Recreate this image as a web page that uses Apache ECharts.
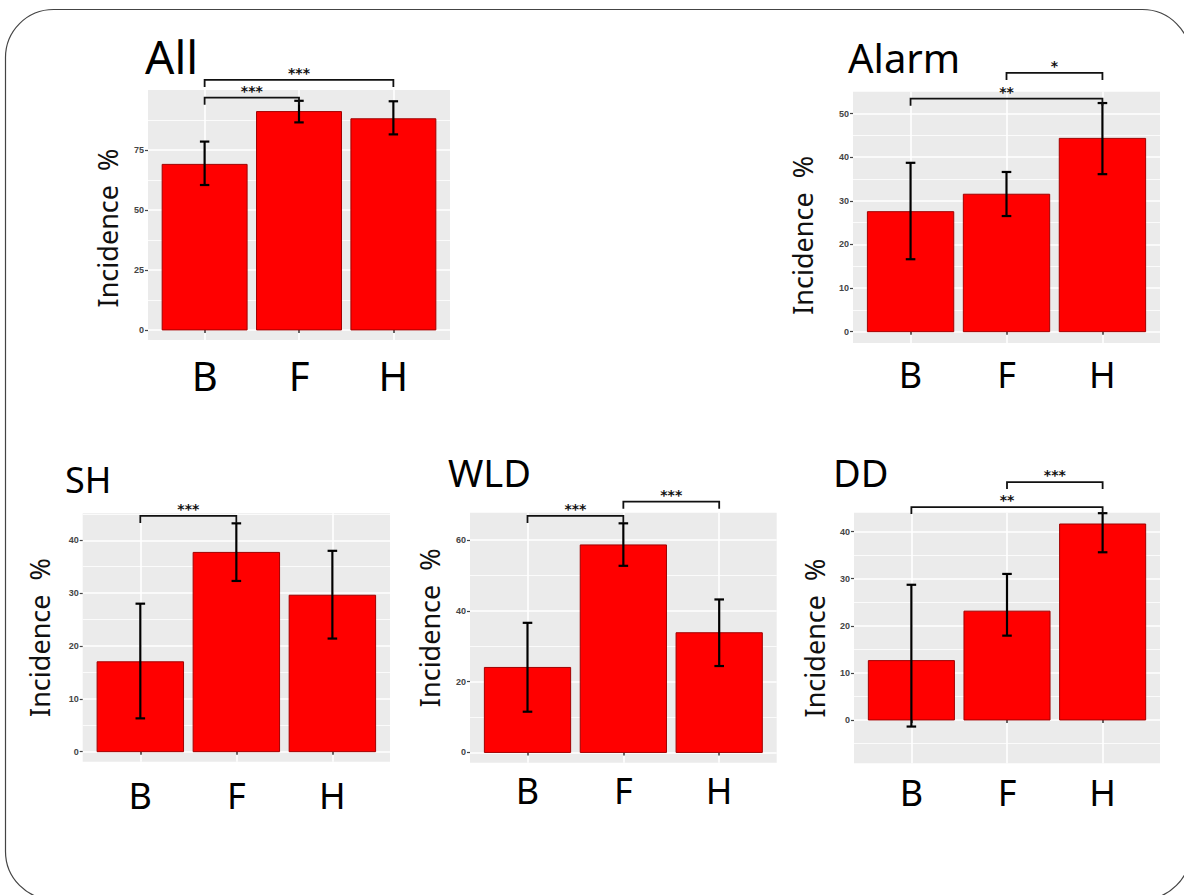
<!DOCTYPE html>
<html><head><meta charset="utf-8">
<script src="https://cdn.jsdelivr.net/npm/echarts@6/dist/echarts.min.js"></script>
<style>html,body{margin:0;padding:0;background:#fff}#c{width:1184px;height:895px}</style>
</head><body><div id="c"></div>
<script>
// ---------- data ----------
const categories = ['B', 'F', 'H'];
const panelTitles = ['All', 'Alarm', 'SH', 'WLD', 'DD'];
const yAxisTitle = 'Incidence \u00a0%';

const allValues = [69.0, 91.0, 88.0];
const allLower  = [60.4, 86.5, 81.5];
const allUpper  = [78.5, 95.5, 95.3];

const alarmValues = [27.5, 31.5, 44.3];
const alarmLower  = [16.6, 26.5, 36.1];
const alarmUpper  = [38.7, 36.6, 52.4];

const shValues = [17.0, 37.7, 29.6];
const shLower  = [6.3, 32.3, 21.4];
const shUpper  = [28.0, 43.2, 38.0];

const wldValues = [24.0, 58.6, 33.8];
const wldLower  = [11.5, 52.7, 24.4];
const wldUpper  = [36.6, 64.7, 43.2];

const ddValues = [12.6, 23.1, 41.6];
const ddLower  = [-1.4, 17.9, 35.6];
const ddUpper  = [28.7, 31.0, 43.9];

// tick labels (major) and minor grid lines
const allTicks   = [0, 25, 50, 75];
const alarmTicks = [0, 10, 20, 30, 40, 50];
const shTicks    = [0, 10, 20, 30, 40];
const wldTicks   = [0, 20, 40, 60];
const ddTicks    = [0, 10, 20, 30, 40];

const allMinor   = [12.5, 37.5, 62.5, 87.5];
const alarmMinor = [5, 15, 25, 35, 45];
const shMinor    = [5, 15, 25, 35, 45];
const wldMinor   = [10, 30, 50];
const ddMinor    = [-5, 5, 15, 25, 35];

// significance brackets: [from, to, height (data units), label]
const allBrackets   = [['B', 'F', 96.8, '***'], ['B', 'H', 104.2, '***']];
const alarmBrackets = [['F', 'H', 59.3, '*'], ['B', 'H', 53.4, '**']];
const shBrackets    = [['B', 'F', 44.6, '***']];
const wldBrackets   = [['B', 'F', 66.8, '***'], ['F', 'H', 70.8, '***']];
const ddBrackets    = [['F', 'H', 50.5, '***'], ['B', 'H', 45.2, '**']];

// ---------- layout / style ----------
const panels = [
  {values: allValues, lower: allLower, upper: allUpper, ticks: allTicks, minor: allMinor, brackets: allBrackets,
   left: 148, top: 90, width: 302, height: 250, yMin: -4.2, yMax: 100,
   tLeft: 145, tTop: 33, tSize: 46, nameGap: 27, namePad: [0, 26, 0, 0], xFont: 40, xMargin: 15},
  {values: alarmValues, lower: alarmLower, upper: alarmUpper, ticks: alarmTicks, minor: alarmMinor, brackets: alarmBrackets,
   left: 853, top: 91.7, width: 307, height: 251.3, yMin: -2.6, yMax: 55,
   tLeft: 848, tTop: 37, tSize: 40, nameGap: 37, namePad: [0, 36, 0, 0], xFont: 36, xMargin: 13},
  {values: shValues, lower: shLower, upper: shUpper, ticks: shTicks, minor: shMinor, brackets: shBrackets,
   left: 82.7, top: 513.3, width: 307.3, height: 248.4, yMin: -1.9, yMax: 45.1,
   tLeft: 65, tTop: 461, tSize: 36, nameGap: 30, namePad: [0, 0, 0, 0], xFont: 36, xMargin: 16},
  {values: wldValues, lower: wldLower, upper: wldUpper, ticks: wldTicks, minor: wldMinor, brackets: wldBrackets,
   left: 470, top: 512.7, width: 306.7, height: 250, yMin: -2.9, yMax: 67.7,
   tLeft: 448, tTop: 453, tSize: 38, nameGap: 27, namePad: [0, 0, 0, 20], xFont: 36, xMargin: 10},
  {values: ddValues, lower: ddLower, upper: ddUpper, ticks: ddTicks, minor: ddMinor, brackets: ddBrackets,
   left: 854, top: 512.7, width: 306, height: 250.6, yMin: -9.2, yMax: 44,
   tLeft: 833, tTop: 453, tSize: 38, nameGap: 26, namePad: [0, 0, 0, 0], xFont: 36, xMargin: 11}
];

const FONT = '"Noto Sans", "DejaVu Sans", sans-serif';

function barRender(params, api) {
  const x = api.value(0), v = api.value(1), lo = api.value(2), hi = api.value(3);
  const base = api.coord([x, 0]);
  const top = api.coord([x, v]);
  const w = api.size([0.9, 0])[0];
  const cap = api.size([0.1, 0])[0];
  const pLo = api.coord([x, lo]);
  const pHi = api.coord([x, hi]);
  const es = {stroke: '#000', lineWidth: 2.2};
  return {type: 'group', children: [
    {type: 'rect', shape: {x: base[0] - w / 2, y: top[1], width: w, height: base[1] - top[1]},
     style: {fill: '#ff0000', stroke: '#a00000', lineWidth: 1}},
    {type: 'line', shape: {x1: pLo[0], y1: pLo[1], x2: pHi[0], y2: pHi[1]}, style: es},
    {type: 'line', shape: {x1: pLo[0] - cap / 2, y1: pLo[1], x2: pLo[0] + cap / 2, y2: pLo[1]}, style: es},
    {type: 'line', shape: {x1: pHi[0] - cap / 2, y1: pHi[1], x2: pHi[0] + cap / 2, y2: pHi[1]}, style: es}
  ]};
}

function makeBracketRender(labels) {
  return function (params, api) {
    const y = api.value(2);
    const p1 = api.coord([api.value(0), y]);
    const p2 = api.coord([api.value(1), y]);
    const drop = 7;
    return {type: 'group', children: [
      {type: 'polyline', shape: {points: [[p1[0], p1[1] + drop], [p1[0], p1[1]], [p2[0], p2[1]], [p2[0], p2[1] + drop]]},
       style: {stroke: '#111', lineWidth: 1.8, fill: null}},
      {type: 'text', x: (p1[0] + p2[0]) / 2, y: p1[1],
       style: {text: labels[params.dataIndex], align: 'center', verticalAlign: 'bottom',
               font: 'bold 14px "DejaVu Sans", sans-serif', fill: '#111'}}
    ]};
  };
}

const grid = [], xAxis = [], yAxis = [], series = [], title = [];
panels.forEach((p, i) => {
  grid.push({left: p.left, top: p.top, width: p.width, height: p.height,
             show: true, backgroundColor: '#ebebeb', borderWidth: 0});
  title.push({text: panelTitles[i], left: p.tLeft, top: p.tTop, padding: 0,
              textStyle: {fontFamily: FONT, fontSize: p.tSize, fontWeight: 'normal', color: '#000'}});
  xAxis.push({type: 'value', gridIndex: i, min: 0.4, max: 3.6,
    axisLine: {show: false},
    axisTick: {show: true, customValues: [1, 2, 3], length: 3, lineStyle: {color: '#333', width: 1.5}},
    axisLabel: {show: true, customValues: [1, 2, 3], margin: p.xMargin,
                formatter: v => categories[Math.round(v) - 1] || '',
                fontFamily: FONT, fontSize: p.xFont, color: '#000'},
    splitLine: {show: true, lineStyle: {color: '#ffffff', width: 1.6}}
  });
  yAxis.push({type: 'value', gridIndex: i, min: p.yMin, max: p.yMax,
    name: yAxisTitle, nameLocation: 'middle', nameGap: p.nameGap,
    nameTextStyle: {fontFamily: FONT, fontSize: 27, color: '#111', padding: p.namePad},
    axisLine: {show: false},
    axisTick: {show: true, customValues: p.ticks, length: 3, lineStyle: {color: '#444', width: 1.2}},
    axisLabel: {show: true, customValues: p.ticks, margin: 4, fontFamily: '"Liberation Sans", sans-serif',
                fontSize: 9, color: '#444', fontWeight: 'bold'},
    splitLine: {show: true, lineStyle: {color: '#ffffff', width: 1.6}}
  });
  yAxis.push({type: 'value', gridIndex: i, min: p.yMin, max: p.yMax,
    axisLine: {show: false},
    axisTick: {show: false, customValues: p.minor},
    axisLabel: {show: false, customValues: p.minor},
    splitLine: {show: true, lineStyle: {color: '#ffffff', width: 0.8}}
  });
  series.push({type: 'custom', xAxisIndex: i, yAxisIndex: 2 * i, clip: false, z: 3,
    data: p.values.map((v, j) => [j + 1, v, p.lower[j], p.upper[j]]),
    encode: {x: 0, y: 1}, renderItem: barRender});
  series.push({type: 'custom', xAxisIndex: i, yAxisIndex: 2 * i, clip: false, z: 4,
    data: p.brackets.map(b => [categories.indexOf(b[0]) + 1, categories.indexOf(b[1]) + 1, b[2]]),
    encode: {x: [0, 1], y: 2}, renderItem: makeBracketRender(p.brackets.map(b => b[3]))});
});

const chart = echarts.init(document.getElementById('c'), null, {renderer: 'svg'});
chart.setOption({
  animation: false,
  backgroundColor: '#ffffff',
  title, grid, xAxis, yAxis, series,
  graphic: [{type: 'rect', shape: {x: 5.5, y: 9.5, width: 1185, height: 890, r: 48},
             style: {fill: null, stroke: '#444', lineWidth: 1.2}, silent: true, z: 0}]
});
</script></body></html>
